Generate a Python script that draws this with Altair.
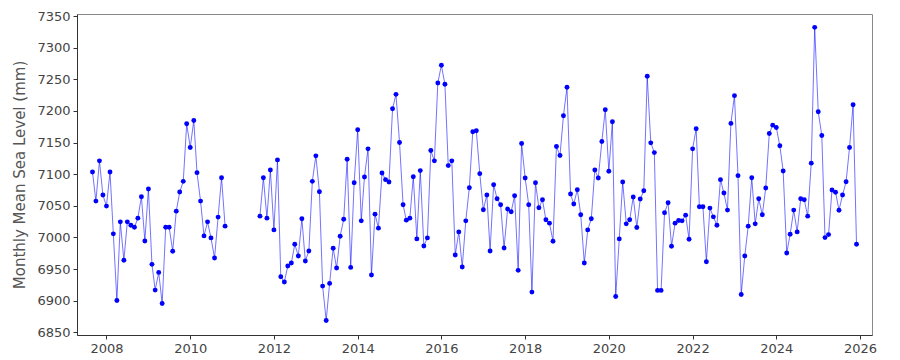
import altair as alt
import pandas as pd

# Segment 1: Sep 2007 - Nov 2010 (monthly)
seg1_start = "2007-09-01"
seg1_values = [
    7103.5, 7057.4, 7121.0, 7067.0,
    7049.5, 7103.5, 7005.6, 6900.3, 7024.6, 6963.8, 7024.6, 7019.3, 7016.0, 7030.4, 7064.3, 6994.4,
    7076.5, 6957.4, 6916.7, 6944.7, 6895.5, 7016.0, 7016.0, 6978.1, 7041.5, 7071.7, 7088.6, 7179.6,
    7142.1, 7184.9, 7102.4, 7057.4, 7002.4, 7024.6, 6999.2, 6967.5, 7032.1, 7094.4, 7017.8,
]

# Segment 2: Sep 2011 - Dec 2025 (monthly)
seg2_start = "2011-09-01"
seg2_values = [
    7033.6, 7094.4, 7030.4, 7106.6,
    7011.9, 7122.5, 6937.8, 6929.4, 6954.8, 6959.5, 6989.2, 6970.6, 7029.4, 6962.7, 6978.6, 7088.6,
    7128.9, 7072.2, 6923.0, 6868.6, 6927.3, 6982.8, 6951.6, 7001.9, 7028.8, 7123.5, 6952.6, 7086.5,
    7170.2, 7026.2, 7095.5, 7140.0, 6940.5, 7036.8, 7014.6, 7101.9, 7091.3, 7087.6, 7203.5, 7226.2,
    7150.0, 7051.6, 7027.3, 7030.4, 7096.0, 6997.6, 7105.6, 6986.5, 6999.2, 7137.3, 7121.0, 7244.2,
    7272.2, 7242.1, 7113.5, 7121.0, 6972.2, 7008.7, 6953.2, 7026.2, 7078.6, 7167.0, 7168.6, 7100.8,
    7043.7, 7067.0, 6978.6, 7083.3, 7061.1, 7051.6, 6983.3, 7044.8, 7040.5, 7065.9, 6947.9, 7148.4,
    7094.0, 7051.6, 6913.5, 7086.5, 7046.8, 7059.5, 7027.8, 7022.5, 6994.0, 7143.7, 7129.4, 7192.3,
    7237.3, 7068.6, 7052.7, 7075.4, 7035.7, 6959.5, 7011.9, 7029.4, 7106.6, 7094.0, 7151.6, 7201.9,
    7104.5, 7182.8, 6906.6, 6997.6, 7087.6, 7021.4, 7027.8, 7063.8, 7015.6, 7060.7, 7073.8, 7254.8,
    7149.5, 7134.1, 6916.2, 6916.2, 7038.9, 7054.8, 6986.0, 7022.5, 7026.7, 7026.2, 7035.2, 6997.1,
    7140.0, 7171.7, 7048.4, 7048.4, 6961.6, 7046.3, 7032.5, 7019.3, 7091.3, 7070.1, 7043.2, 7180.2,
    7224.1, 7097.6, 6909.8, 6970.6, 7017.8, 7094.4, 7021.4, 7061.1, 7035.7, 7078.1, 7164.3, 7177.5,
    7173.8, 7144.8, 7105.0, 6975.4, 7005.1, 7043.2, 7008.7, 7061.1, 7059.5, 7033.6, 7117.4, 7332.1,
    7198.7, 7161.1, 6999.7, 7004.4, 7075.0, 7071.5, 7043.0, 7067.0, 7088.0, 7142.1, 7209.8, 6989.2,
]

x_tick_years = [2008, 2010, 2012, 2014, 2016, 2018, 2020, 2022, 2024, 2026]
y_ticks = [6850, 6900, 6950, 7000, 7050, 7100, 7150, 7200, 7250, 7300, 7350]

frames = []
for seg, start, vals in [(1, seg1_start, seg1_values), (2, seg2_start, seg2_values)]:
    d = pd.date_range(start, periods=len(vals), freq="MS")
    frames.append(pd.DataFrame({"date": d.strftime("%Y-%m-%d"), "msl": vals, "seg": seg}))
df = pd.concat(frames, ignore_index=True)

x_enc = alt.X(
    "date:T",
    title=None,
    scale=alt.Scale(domain=["2007-04-19", "2026-04-15"]),
    axis=alt.Axis(values=[f"{y}-01-01" for y in x_tick_years], format="%Y", labelPadding=3),
)
y_enc = alt.Y(
    "msl:Q",
    title="Monthly Mean Sea Level (mm)",
    scale=alt.Scale(domain=[6845.7, 7353.2], nice=False, zero=False),
    axis=alt.Axis(values=y_ticks, format="d", titlePadding=9, labelPadding=3),
)

base = alt.Chart(df)
line = base.mark_line(color="#0000ff", opacity=0.55, strokeWidth=1).encode(
    x=x_enc, y=y_enc, detail="seg:N"
)
pts = base.mark_circle(color="#0000ff", opacity=1, size=24).encode(x=x_enc, y=y_enc)

chart = (
    alt.layer(line, pts)
    .properties(
        width=795,
        height=321,
        autosize=alt.AutoSizeParams(type="none"),
        padding={"left": 69, "top": 6, "right": 20, "bottom": 30},
    )
    .configure_view(stroke="#888888", strokeWidth=1)
    .configure_axis(
        grid=False,
        domainColor="#333333",
        domainWidth=1,
        tickColor="#333333",
        tickSize=4,
        labelColor="#444444",
        labelFont="DejaVu Sans",
        labelFontSize=13,
        titleColor="#555555",
        titleFont="DejaVu Sans",
        titleFontSize=15,
        titleFontWeight="normal",
    )
)

chart.save("out.html", embed_options={"renderer": "svg", "actions": False})
